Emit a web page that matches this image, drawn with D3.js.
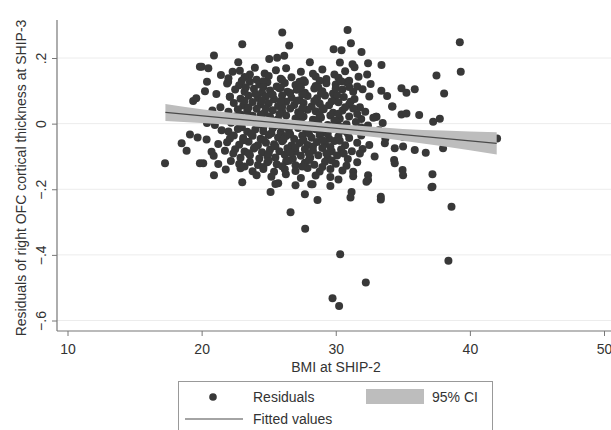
<!DOCTYPE html>
<html>
<head>
<meta charset="utf-8">
<script src="https://cdn.jsdelivr.net/npm/d3@7"></script>
<style>
  body { margin: 0; background: #fff; }
  svg { font-family: "Liberation Sans", Arial, sans-serif; display: block; }
</style>
</head>
<body>
<div id="chart-area"></div>
<script>
// BMI at SHIP-2 vs residual OFC thickness at SHIP-3
const residuals = [
  // upper outliers
  [26.01, 0.278], [23.03, 0.242], [26.53, 0.238], [20.92, 0.208], [25.04, 0.197],
  [25.63, 0.201], [26.16, 0.207], [28.07, 0.187], [29.84, 0.227], [30.43, 0.224],
  [30.88, 0.285], [31.13, 0.245], [31.92, 0.218], [39.25, 0.248], [39.32, 0.158],
  [37.51, 0.147], [38.08, 0.092], [30.31, 0.186], [31.25, 0.181], [32.41, 0.184],
  [33.41, 0.179], [32.34, 0.150], [22.73, 0.187], [20.0, 0.173], [20.5, 0.169],
  [23.97, 0.170], [22.31, 0.158], [21.44, 0.148], [21.98, 0.128], [20.25, 0.099],
  [22.11, 0.082], [19.37, 0.069], [19.87, 0.173], [25.54, 0.163],
  // right side
  [33.83, 0.084], [34.90, 0.108], [35.27, 0.094], [35.89, 0.105], [34.23, 0.052],
  [34.90, 0.028], [35.27, 0.031], [36.22, 0.026], [37.26, 0.006], [37.76, 0.015],
  [42.03, -0.045], [38.0, -0.075], [36.71, -0.089], [35.89, -0.080], [34.40, -0.075],
  [33.04, 0.021],
  // dense rows
  [22.85, 0.161], [24.7, 0.153], [26.3, 0.169], [27.4, 0.158], [28.3, 0.152],
  [29.0, 0.165], [29.9, 0.150], [30.7, 0.160], [31.4, 0.172], [23.6, 0.150],
  [22.0, 0.138], [23.2, 0.142], [24.1, 0.134], [25.0, 0.145], [25.9, 0.137],
  [26.7, 0.141], [27.6, 0.132], [28.5, 0.144], [29.3, 0.136], [30.2, 0.140],
  [31.0, 0.131], [31.7, 0.143],
  [20.4, 0.128], [21.9, 0.122], [22.8, 0.117], [23.6, 0.128], [24.3, 0.119],
  [24.9, 0.126], [25.6, 0.113], [26.2, 0.124], [27.0, 0.118], [27.7, 0.127],
  [28.5, 0.115], [29.3, 0.123], [30.0, 0.119], [30.8, 0.126], [31.6, 0.113],
  [32.6, 0.121],
  [21.1, 0.090], [22.5, 0.104], [23.2, 0.097], [23.9, 0.106], [24.5, 0.095],
  [25.1, 0.101], [25.8, 0.108], [26.4, 0.097], [27.1, 0.103], [27.7, 0.094],
  [28.4, 0.107], [29.0, 0.099], [29.8, 0.092], [30.5, 0.104], [31.3, 0.097],
  [32.0, 0.105], [33.4, 0.100],
  [19.6, 0.077], [22.1, 0.082], [22.9, 0.076], [23.5, 0.085], [24.2, 0.078],
  [24.8, 0.083], [25.4, 0.074], [26.0, 0.086], [26.7, 0.079], [27.3, 0.071],
  [27.9, 0.084], [28.6, 0.077], [29.2, 0.086], [29.9, 0.073], [30.6, 0.081],
  [31.4, 0.075], [32.5, 0.083],
  [21.4, 0.050], [22.4, 0.063], [23.1, 0.055], [23.8, 0.066], [24.4, 0.058],
  [25.0, 0.062], [25.7, 0.054], [26.3, 0.067], [26.9, 0.057], [27.6, 0.063],
  [28.2, 0.052], [28.8, 0.061], [29.5, 0.056], [30.2, 0.065], [31.0, 0.058],
  [31.8, 0.050], [34.2, 0.052],
  [20.8, 0.040], [22.0, 0.036], [22.7, 0.044], [23.4, 0.038], [24.1, 0.045],
  [24.7, 0.034], [25.3, 0.041], [26.0, 0.037], [26.6, 0.046], [27.2, 0.035],
  [27.9, 0.042], [28.5, 0.038], [29.1, 0.044], [29.8, 0.033], [30.5, 0.040],
  [31.3, 0.046], [32.2, 0.036], [33.0, 0.021],
  [21.6, 0.018], [22.5, 0.022], [23.2, 0.014], [23.8, 0.024], [24.5, 0.017],
  [25.1, 0.021], [25.7, 0.013], [26.3, 0.025], [27.0, 0.016], [27.6, 0.022],
  [28.3, 0.012], [28.9, 0.019], [29.6, 0.025], [30.3, 0.015], [31.0, 0.022],
  [31.9, 0.014], [32.8, 0.018],
  [20.4, 0.002], [20.99, -0.004], [22.2, 0.003], [22.9, -0.004], [23.6, 0.005],
  [24.3, -0.002], [24.9, 0.004], [25.5, -0.006], [26.2, 0.002], [26.8, -0.003],
  [27.4, 0.006], [28.1, -0.005], [28.7, 0.001], [29.4, -0.004], [30.1, 0.004],
  [30.8, -0.002], [31.5, 0.005], [32.4, -0.006], [33.5, 0.002],
  [21.49, -0.020], [22.0, -0.024], [22.7, -0.016], [23.4, -0.025], [24.0, -0.018],
  [24.6, -0.023], [25.3, -0.014], [25.9, -0.026], [26.5, -0.019], [27.2, -0.013],
  [27.8, -0.024], [28.5, -0.017], [29.1, -0.026], [29.8, -0.015], [30.6, -0.022],
  [31.4, -0.018], [32.3, -0.025], [33.2, -0.020],
  [19.13, -0.033], [19.7, -0.042], [22.11, -0.045], [22.4, -0.036], [23.1, -0.044],
  [23.8, -0.037], [24.4, -0.046], [25.0, -0.035], [25.7, -0.042], [26.3, -0.038],
  [26.9, -0.047], [27.5, -0.036], [28.2, -0.043], [28.8, -0.035], [29.5, -0.046],
  [30.2, -0.039], [31.0, -0.044], [31.9, -0.036], [33.7, -0.045], [35.0, -0.040],
  [18.51, -0.060], [20.37, -0.048], [21.24, -0.062], [21.9, -0.057], [22.8, -0.064],
  [23.5, -0.055], [24.2, -0.066], [24.8, -0.058], [25.4, -0.063], [26.0, -0.054],
  [26.7, -0.067], [27.3, -0.059], [27.9, -0.065], [28.6, -0.056], [29.2, -0.062],
  [29.9, -0.053], [30.7, -0.066], [31.6, -0.058], [32.5, -0.065], [33.66, -0.060],
  [35.02, -0.070],
  [18.88, -0.083], [20.74, -0.086], [21.74, -0.083], [22.5, -0.078], [23.2, -0.085],
  [23.9, -0.076], [24.5, -0.087], [25.1, -0.079], [25.8, -0.084], [26.4, -0.075],
  [27.0, -0.086], [27.7, -0.078], [28.3, -0.083], [29.0, -0.074], [29.7, -0.085],
  [30.4, -0.079], [31.2, -0.084], [32.0, -0.077], [31.8, -0.091],
  [22.36, -0.091], [20.9, -0.098], [22.9, -0.104], [23.6, -0.096], [24.3, -0.106],
  [24.9, -0.099], [25.5, -0.103], [26.2, -0.095], [26.8, -0.107], [27.4, -0.098],
  [28.1, -0.104], [28.7, -0.096], [29.4, -0.105], [30.1, -0.097], [30.9, -0.108],
  [32.9, -0.100],
  [17.27, -0.121], [19.87, -0.121], [20.12, -0.121], [21.24, -0.123], [22.18, -0.114],
  [22.8, -0.123], [23.6, -0.117], [24.2, -0.126], [24.9, -0.118], [25.6, -0.124],
  [26.3, -0.115], [27.0, -0.127], [27.7, -0.119], [28.4, -0.125], [29.2, -0.116],
  [30.0, -0.122], [30.8, -0.128], [31.6, -0.118], [34.35, -0.111], [34.4, -0.121],
  [20.92, -0.157], [21.8, -0.140], [22.9, -0.136], [23.8, -0.145], [24.6, -0.138],
  [25.4, -0.147], [26.2, -0.139], [27.0, -0.144], [27.9, -0.135], [28.8, -0.146],
  [29.6, -0.138], [30.5, -0.143], [31.3, -0.147], [34.98, -0.141],
  [23.03, -0.179], [24.10, -0.157], [25.2, -0.162], [26.28, -0.154], [27.4, -0.166],
  [28.5, -0.158], [29.6, -0.163], [30.2, -0.170], [31.3, -0.160], [32.41, -0.157],
  [32.41, -0.172], [35.02, -0.157], [37.21, -0.154],
  [25.14, -0.208], [25.71, -0.182], [27.0, -0.188], [27.70, -0.215], [28.27, -0.185],
  [28.64, -0.233], [29.6, -0.190], [31.18, -0.208], [31.10, -0.225], [32.29, -0.177],
  [33.36, -0.223], [37.14, -0.194], [37.21, -0.192], [25.5, -0.184], [28.17, -0.185],
  [33.36, -0.231],
  // filling the core
  [24.0, 0.091], [25.3, 0.088], [26.6, 0.093], [27.5, 0.089], [28.9, 0.092], [30.1, 0.087],
  [23.5, 0.049], [24.8, 0.047], [26.0, 0.051], [27.5, 0.046], [29.0, 0.048], [30.7, 0.050],
  [24.2, 0.009], [25.6, 0.011], [27.1, 0.008], [28.5, 0.010], [29.9, 0.009],
  [23.7, -0.031], [25.2, -0.029], [26.6, -0.032], [28.0, -0.030], [29.4, -0.031], [30.9, -0.030],
  [24.0, -0.071], [25.5, -0.069], [27.0, -0.072], [28.3, -0.070], [29.6, -0.071],
  [25.0, -0.112], [26.5, -0.113], [28.0, -0.111], [29.7, -0.112],
  [23.0, 0.131], [24.6, 0.129], [26.0, 0.133], [27.3, 0.128], [28.8, 0.131], [30.4, 0.129],
  [23.3, 0.111], [24.6, 0.112], [25.9, 0.109], [27.4, 0.111], [28.7, 0.110], [30.0, 0.108], [31.0, 0.112],
  [23.2, 0.069], [24.5, 0.070], [25.9, 0.068], [27.1, 0.070], [28.4, 0.069], [29.7, 0.068], [31.1, 0.067],
  [22.9, 0.028], [24.4, 0.027], [25.8, 0.029], [27.4, 0.028], [28.8, 0.027], [30.2, 0.030], [31.6, 0.029],
  [23.0, -0.011], [24.6, -0.010], [26.0, -0.012], [27.6, -0.009], [29.0, -0.011], [30.4, -0.010], [31.9, -0.012],
  [23.1, -0.051], [24.6, -0.050], [26.1, -0.049], [27.6, -0.051], [29.0, -0.050], [30.3, -0.052],
  [23.5, -0.090], [25.0, -0.091], [26.6, -0.089], [28.0, -0.092], [29.3, -0.090], [30.6, -0.091],
  [23.2, -0.131], [24.6, -0.132], [26.0, -0.130], [27.5, -0.131], [29.0, -0.132],
  // lower outliers
  [26.63, -0.270], [27.72, -0.320], [30.33, -0.398], [32.24, -0.484], [29.76, -0.532],
  [30.25, -0.556], [38.63, -0.253], [38.40, -0.418]
];

// fitted line and 95% CI band
const fitX = [17.3, 42.0];
const fitY = [0.034, -0.060];
const ciX = [17.3, 20, 23, 26, 29, 32, 35, 38, 42];
const ciLow = [0.008, 0.002, -0.006, -0.015, -0.025, -0.037, -0.052, -0.069, -0.094];
const ciHigh = [0.060, 0.044, 0.029, 0.015, 0.003, -0.007, -0.016, -0.021, -0.026];

const xTicks = [10, 20, 30, 40, 50];
const yTicks = [-0.6, -0.4, -0.2, 0, 0.2];

const width = 611, height = 430;
const plotLeft = 57, plotTop = 20, plotBottom = 331;

const svg = d3
  .select("#chart-area")
  .append("svg")
  .attr("width", width)
  .attr("height", height);

const xScale = d3.scaleLinear().domain([10, 50]).range([67.5, 604]);
const yScale = d3.scaleLinear().domain([-0.6, 0.2]).range([320.5, 58]);

// gridlines
svg
  .append("g")
  .selectAll("line")
  .data(yTicks)
  .join("line")
  .attr("x1", plotLeft)
  .attr("x2", width)
  .attr("y1", d => yScale(d))
  .attr("y2", d => yScale(d))
  .attr("stroke", "#ececec")
  .attr("stroke-width", 1);

// points
svg
  .append("g")
  .selectAll("circle")
  .data(residuals)
  .join("circle")
  .attr("cx", d => xScale(d[0]))
  .attr("cy", d => yScale(d[1]))
  .attr("r", 4)
  .attr("fill", "#383838");

// CI band
const ciData = ciX.map((x, i) => ({ x: x, lo: ciLow[i], hi: ciHigh[i] }));
const area = d3
  .area()
  .x(d => xScale(d.x))
  .y0(d => yScale(d.lo))
  .y1(d => yScale(d.hi))
  .curve(d3.curveMonotoneX);
svg
  .append("path")
  .datum(ciData)
  .attr("d", area)
  .attr("fill", "#bdbdbd");

// fitted line
const line = d3
  .line()
  .x(d => xScale(d[0]))
  .y(d => yScale(d[1]));
svg
  .append("path")
  .datum(fitX.map((x, i) => [x, fitY[i]]))
  .attr("d", line)
  .attr("fill", "none")
  .attr("stroke", "#4a4a4a")
  .attr("stroke-width", 1.2);

// axes
const xAxisGroup = svg
  .append("g")
  .attr("transform", "translate(0," + plotBottom + ")")
  .call(
    d3
      .axisBottom(xScale)
      .tickValues(xTicks)
      .tickSize(5)
      .tickPadding(8)
      .tickFormat(d3.format("d"))
  );
xAxisGroup.select(".domain").remove();

const yFormat = d => (d === 0 ? "0" : d3.format(".1f")(d).replace("0.", "."));
const yAxisGroup = svg
  .append("g")
  .attr("transform", "translate(" + plotLeft + ",0)")
  .call(d3.axisLeft(yScale).tickValues(yTicks).tickSize(5).tickFormat(yFormat));
yAxisGroup.select(".domain").remove();
yAxisGroup
  .selectAll("text")
  .attr("x", null)
  .attr("dy", null)
  .attr("text-anchor", "middle")
  .attr("transform", "translate(-11.5,0) rotate(-90)");

svg.selectAll(".tick line").attr("stroke", "#777");
svg
  .selectAll(".tick text")
  .attr("fill", "#333")
  .attr("font-size", "14px")
  .attr("font-family", "'Liberation Sans', Arial, sans-serif");

svg
  .append("line")
  .attr("x1", plotLeft)
  .attr("x2", plotLeft)
  .attr("y1", plotTop)
  .attr("y2", plotBottom)
  .attr("stroke", "#777")
  .attr("stroke-width", 1.2);
svg
  .append("line")
  .attr("x1", plotLeft)
  .attr("x2", width)
  .attr("y1", plotBottom)
  .attr("y2", plotBottom)
  .attr("stroke", "#777")
  .attr("stroke-width", 1.2);

// axis titles
svg
  .append("text")
  .attr("x", 336)
  .attr("y", 372)
  .attr("text-anchor", "middle")
  .attr("font-size", "14px")
  .attr("fill", "#333")
  .text("BMI at SHIP-2");

svg
  .append("text")
  .attr("transform", "translate(26,178) rotate(-90)")
  .attr("text-anchor", "middle")
  .attr("font-size", "14px")
  .attr("fill", "#333")
  .text("Residuals of right OFC cortical thickness at SHIP-3");

// legend
const legend = svg.append("g");
legend
  .append("rect")
  .attr("x", 178.5)
  .attr("y", 381.5)
  .attr("width", 314)
  .attr("height", 60)
  .attr("fill", "#fff")
  .attr("stroke", "#999");
legend
  .append("circle")
  .attr("cx", 213)
  .attr("cy", 397)
  .attr("r", 3.8)
  .attr("fill", "#383838");
legend
  .append("text")
  .attr("x", 253)
  .attr("y", 402)
  .attr("font-size", "14px")
  .attr("fill", "#333")
  .text("Residuals");
legend
  .append("rect")
  .attr("x", 366)
  .attr("y", 389)
  .attr("width", 58)
  .attr("height", 15)
  .attr("fill", "#bdbdbd");
legend
  .append("text")
  .attr("x", 432)
  .attr("y", 402)
  .attr("font-size", "14px")
  .attr("fill", "#333")
  .text("95% CI");
legend
  .append("line")
  .attr("x1", 185)
  .attr("x2", 243)
  .attr("y1", 419)
  .attr("y2", 419)
  .attr("stroke", "#4a4a4a")
  .attr("stroke-width", 1.2);
legend
  .append("text")
  .attr("x", 253)
  .attr("y", 424)
  .attr("font-size", "14px")
  .attr("fill", "#333")
  .text("Fitted values");
</script>
</body>
</html>
